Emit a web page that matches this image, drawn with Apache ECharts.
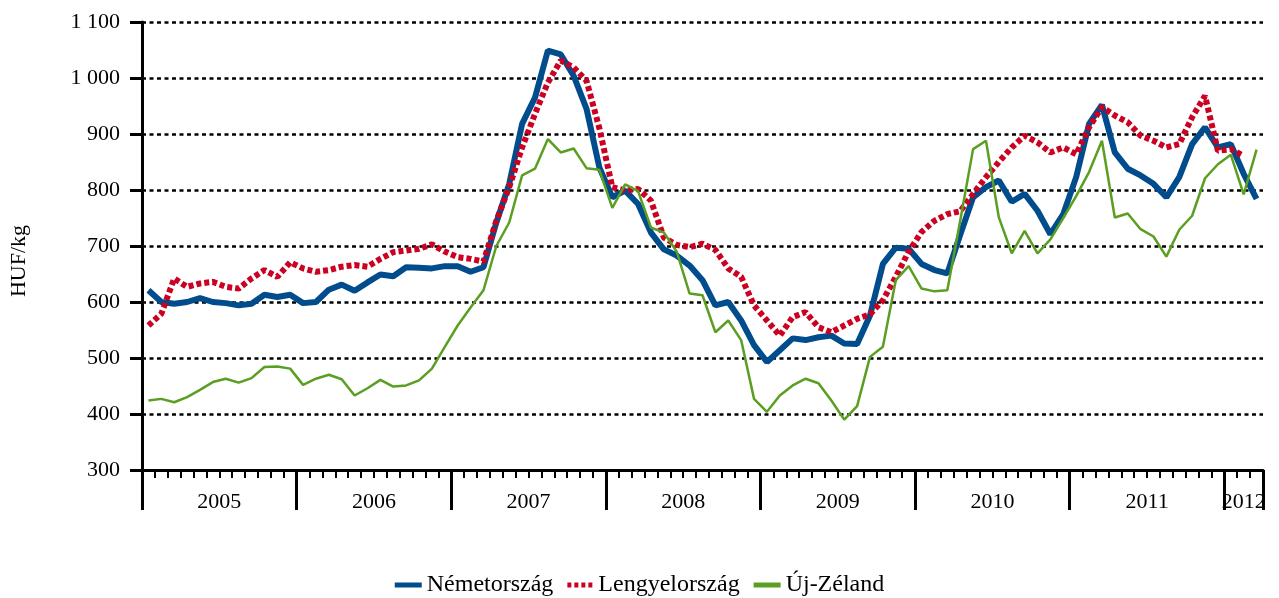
<!DOCTYPE html>
<html>
<head>
<meta charset="utf-8">
<script src="https://cdn.jsdelivr.net/npm/echarts@6/dist/echarts.min.js"></script>
<style>
  html, body { margin: 0; padding: 0; background: #fff; }
  #main { width: 1279px; height: 598px; }
</style>
</head>
<body>
<div id="main"></div>
<script>
// monthly prices, HUF/kg, Jan 2005 - Mar 2012
var years = ['2005', '2006', '2007', '2008', '2009', '2010', '2011', '2012'];
var lastYearMonths = 3;

var nemet = [
  621, 600, 597, 600, 607, 600, 598, 594, 597, 613, 609, 613,
  598, 600, 622, 631, 620, 635, 649, 646, 662, 661, 660, 664,
  664, 654, 662, 742, 811, 918, 965, 1049, 1042, 1004, 945, 840,
  787, 799, 775, 724, 694, 683, 665, 639, 594, 600, 567, 523,
  493, 514, 535, 532, 537, 540, 526, 525, 576, 668, 697, 695,
  668, 657, 651, 720, 787, 805, 817, 779, 793, 763, 721, 757,
  823, 918, 952, 867, 838, 826, 811, 787, 823, 882, 912, 876,
  882, 829, 784
];
var lengyel = [
  558, 579, 642, 627, 633, 636, 627, 624, 642, 657, 645, 671,
  660, 654, 657, 663, 666, 663, 677, 689, 692, 695, 703, 690,
  680, 677, 672, 745, 805, 876, 936, 992, 1031, 1019, 995, 910,
  805, 799, 802, 781, 715, 702, 698, 704, 693, 660, 645, 594,
  567, 540, 573, 582, 555, 546, 558, 570, 578, 603, 645, 690,
  725, 745, 757, 762, 793, 823, 850, 876, 897, 885, 867, 876,
  864, 912, 948, 933, 921, 897, 888, 876, 882, 930, 968, 870,
  873, 861
];
var ujzeland = [
  424, 427, 421, 430, 443, 457, 463, 456, 464, 484, 485, 481,
  452, 463, 470, 462, 433, 446, 461, 449, 451, 460, 481, 520,
  558, 590, 621, 700, 742, 826, 838, 891, 867, 874, 839, 836,
  768, 810, 798, 733, 724, 690, 615, 612, 546, 567, 532, 427,
  404, 433, 451, 463, 455, 424, 390, 414, 502, 520, 639, 664,
  624, 619, 621, 745, 873, 888, 751, 687, 727, 687, 712, 750,
  789, 832, 888, 751, 758, 730, 717, 681, 729, 754, 821, 846,
  863, 792, 872
];

var months = [];
years.forEach(function (y, k) {
  var n = (k === years.length - 1) ? lastYearMonths : 12;
  for (var m = 1; m <= n; m++) months.push(y + '-' + (m < 10 ? '0' + m : m));
});

var FONT = 'Liberation Serif';
var BLUE = '#004C8C', RED = '#CC0020', GREEN = '#5A9E22';

var myChart = echarts.init(document.getElementById('main'));

function yearLabelAt(i) {
  // middle of a full year, or middle of the 3 months of 2012
  if (i >= 84) return i === 85;
  return i % 12 === 5;
}

var option = {
  animation: false,
  grid: { left: 142, right: 16, top: 22, bottom: 128 },
  legend: {
    top: 568,
    left: 'center',
    itemWidth: 27,
    itemHeight: 5,
    itemGap: 14,
    textStyle: { fontFamily: FONT, fontSize: 24, color: '#000' },
    data: [
      { name: 'Németország', icon: 'path://M0,0H27V5H0Z' },
      { name: 'Lengyelország', icon: 'path://M0,0H4V5H0ZM7,0H11V5H7ZM14,0H18V5H14ZM21,0H25V5H21Z' },
      { name: 'Új-Zéland', icon: 'path://M0,0H27V5H0Z' }
    ]
  },
  xAxis: [
    {
      type: 'category',
      data: months,
      position: 'bottom',
      axisLine: { show: true, lineStyle: { color: '#000', width: 3 } },
      axisTick: { show: true, interval: 0, length: 8, lineStyle: { color: '#000', width: 2 } },
      axisLabel: { show: false },
      splitLine: { show: false }
    },
    {
      type: 'category',
      data: months,
      position: 'bottom',
      axisLine: { show: false },
      axisTick: {
        show: true,
        interval: function (i) { return i % 12 === 0; },
        length: 40,
        lineStyle: { color: '#000', width: 3 }
      },
      axisLabel: {
        show: true,
        interval: yearLabelAt,
        margin: 21,
        formatter: function (v, i) {
          var y = v.slice(0, 4);
          return i >= 84 ? '{b|' + y + '}' : '{a|' + y + '}';
        },
        rich: {
          a: { fontFamily: FONT, fontSize: 22, color: '#000', padding: [0, 0, 0, 13] },
          b: { fontFamily: FONT, fontSize: 22, color: '#000' }
        }
      },
      splitLine: { show: false }
    }
  ],
  yAxis: {
    type: 'value',
    min: 300,
    max: 1100,
    interval: 100,
    name: 'HUF/kg',
    nameLocation: 'middle',
    nameGap: 112,
    nameTextStyle: { fontFamily: FONT, fontSize: 22, color: '#000', padding: [0, 30, 0, 0] },
    axisLine: { show: true, lineStyle: { color: '#000', width: 3 } },
    axisTick: { show: true, length: 12, lineStyle: { color: '#000', width: 3 } },
    axisLabel: {
      margin: 22,
      fontFamily: FONT,
      fontSize: 22,
      color: '#000',
      formatter: function (v) { return String(v).replace(/\B(?=(\d{3})+(?!\d))/g, ' '); }
    },
    splitLine: { show: true, lineStyle: { color: '#000', width: 2.5, type: [4, 3.5] } }
  },
  series: [
    {
      name: 'Németország',
      type: 'line',
      data: nemet,
      symbol: 'none',
      color: BLUE,
      lineStyle: { width: 6, color: BLUE }
    },
    {
      name: 'Lengyelország',
      type: 'line',
      data: lengyel,
      symbol: 'none',
      color: RED,
      lineStyle: { width: 6, color: RED, type: [5, 3] }
    },
    {
      name: 'Új-Zéland',
      type: 'line',
      data: ujzeland,
      symbol: 'none',
      color: GREEN,
      lineStyle: { width: 2.5, color: GREEN }
    }
  ]
};

myChart.setOption(option);
</script>
</body>
</html>
